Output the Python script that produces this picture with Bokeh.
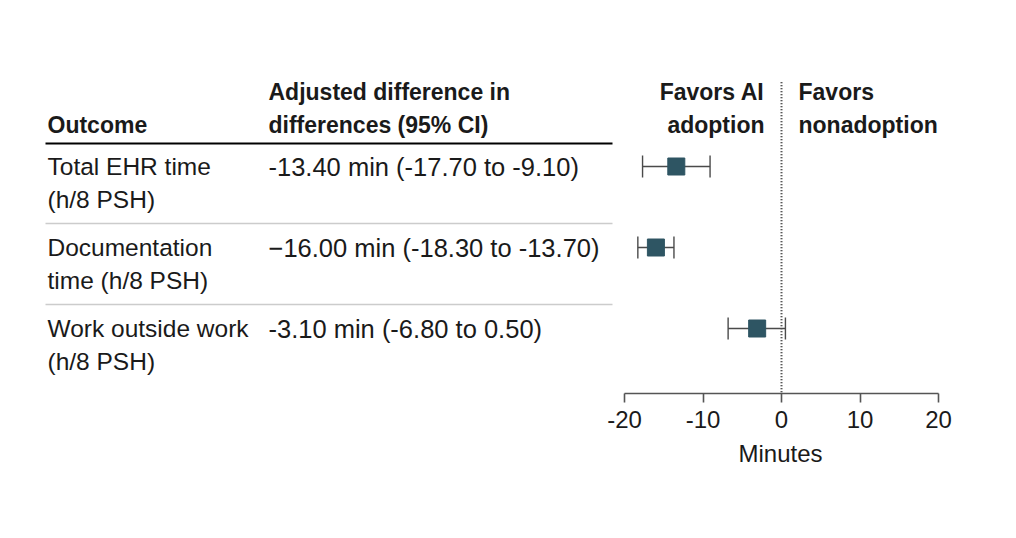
from bokeh.plotting import figure
from bokeh.models import Range1d, LinearAxis, FixedTicker, Title
from bokeh.core.properties import value
from bokeh.embed import file_html
from bokeh.resources import INLINE

# ---- data ----
outcome_line1 = ["Total EHR time", "Documentation", "Work outside work"]
outcome_line2 = ["(h/8 PSH)", "time (h/8 PSH)", "(h/8 PSH)"]
ci_text = ["-13.40 min (-17.70 to -9.10)",
           "\u221216.00 min (-18.30 to -13.70)",
           "-3.10 min (-6.80 to 0.50)"]
estimate = [-13.4, -16.0, -3.1]
lower = [-17.7, -18.3, -6.8]
upper = [-9.1, -13.7, 0.5]
rows = [1, 2, 3]
tick_values = [-20, -10, 0, 10, 20]
tick_labels = ["-20", "-10", "0", "10", "20"]
x_label = "Minutes"
header_outcome = "Outcome"
header_ci = ["Adjusted difference in", "differences (95% CI)"]
favors_left = ["Favors AI", "adoption"]
favors_right = ["Favors", "nonadoption"]

# ---- layout (page pixel coordinates) ----
OFF = 8                      # page offset of the frame
W, H = 1008, 523
FRAME_W = 1000
FRAME_H = 385
PX_PER_MIN = 314 / 40.0
X_NEG20 = 616                # frame px of -20
x_start = -20 - X_NEG20 / PX_PER_MIN
x_end = 20 + (FRAME_W - (X_NEG20 + 314)) / PX_PER_MIN
ROW_PX = 81.0
ROW1_PX = 158.0              # frame px of row 1 centre
y_top = 1 - ROW1_PX / ROW_PX
y_bot = 1 + (FRAME_H - ROW1_PX) / ROW_PX

FONT = value("Liberation Sans")
TXT = "#1a1a1a"

p = figure(width=W, height=H, x_range=Range1d(x_start, x_end),
           y_range=Range1d(y_bot, y_top), output_backend="svg",
           toolbar_location=None, x_axis_location=None, y_axis_location=None,
           min_border_left=OFF, min_border_right=0, min_border_top=OFF,
           min_border_bottom=H - FRAME_H - OFF)
p.extra_x_ranges = {"tbl": Range1d(0, FRAME_W)}
p.outline_line_color = None
p.xgrid.visible = False
p.ygrid.visible = False
p.background_fill_color = "white"
p.border_fill_color = "white"

xaxis = LinearAxis(ticker=FixedTicker(ticks=tick_values), bounds=(-20, 20),
                   major_label_overrides={v: l for v, l in zip(tick_values, tick_labels)})
xaxis.axis_line_color = "#555555"
xaxis.axis_line_width = 1.6
xaxis.major_tick_line_color = "#555555"
xaxis.major_tick_line_width = 1.6
xaxis.major_tick_in = 0
xaxis.major_tick_out = 9
xaxis.minor_tick_line_color = None
xaxis.major_label_text_font = "Liberation Sans"
xaxis.major_label_text_font_size = "24px"
xaxis.major_label_text_color = TXT
xaxis.major_label_standoff = 8
p.add_layout(xaxis, "below")

xt = Title(text=x_label, align="left", offset=730, standoff=14,
           text_font="Liberation Sans", text_font_size="24px",
           text_font_style="normal", text_color=TXT)
p.add_layout(xt, "below")

# zero reference line
p.segment(x0=[0], x1=[0], y0=[-0.04], y1=[y_bot], line_color="#222222",
          line_width=2, line_dash="1 2")

# error bars
cap = 0.135
EB = "#4a4a4a"
p.segment(x0=lower, x1=upper, y0=rows, y1=rows, line_color=EB, line_width=1.4)
p.segment(x0=lower, x1=lower, y0=[r - cap for r in rows], y1=[r + cap for r in rows],
          line_color=EB, line_width=1.4)
p.segment(x0=upper, x1=upper, y0=[r - cap for r in rows], y1=[r + cap for r in rows],
          line_color=EB, line_width=1.4)
p.scatter(x=estimate, y=rows, marker="square", size=17,
          fill_color="#2e5563", line_color="#2e5563")

# table rules
TBL_X0, TBL_X1 = 37, 604
p.segment(x0=[TBL_X0], x1=[TBL_X1], y0=[1 - 23 / ROW_PX], y1=[1 - 23 / ROW_PX],
          line_color="black", line_width=2.2, x_range_name="tbl")
sep_y = [r + 57 / ROW_PX for r in rows[:-1]]
p.segment(x0=[TBL_X0] * len(sep_y), x1=[TBL_X1] * len(sep_y), y0=sep_y, y1=sep_y,
          line_color="#cccccc", line_width=1.5, x_range_name="tbl")

# header text
hy1 = 1 - 75 / ROW_PX
hy2 = 1 - 42 / ROW_PX
COL1, COL2 = 39, 260
p.text(x=[COL1], y=[hy2], text=[header_outcome], x_range_name="tbl",
       text_font=FONT, text_font_size="23px", text_font_style="bold",
       text_baseline="middle", text_color=TXT)
p.text(x=[COL2, COL2], y=[hy1, hy2], text=header_ci, x_range_name="tbl",
       text_font=FONT, text_font_size="23px", text_font_style="bold",
       text_baseline="middle", text_color=TXT)
p.text(x=[756, 756], y=[hy1, hy2], text=favors_left, x_range_name="tbl",
       text_font=FONT, text_font_size="23px", text_font_style="bold",
       text_align="right", text_baseline="middle", text_color=TXT)
p.text(x=[790, 790], y=[hy1, hy2], text=favors_right, x_range_name="tbl",
       text_font=FONT, text_font_size="23px", text_font_style="bold",
       text_align="left", text_baseline="middle", text_color=TXT)

# row text
line2 = 32.5 / ROW_PX
p.text(x=[COL1] * 3, y=rows, text=outcome_line1, x_range_name="tbl",
       text_font=FONT, text_font_size="24.5px", text_baseline="middle", text_color=TXT)
p.text(x=[COL1] * 3, y=[r + line2 for r in rows], text=outcome_line2, x_range_name="tbl",
       text_font=FONT, text_font_size="24.5px", text_baseline="middle", text_color=TXT)
p.text(x=[COL2] * 3, y=rows, text=ci_text, x_range_name="tbl",
       text_font=FONT, text_font_size="25.5px", text_baseline="middle", text_color=TXT)

open("out.html", "w").write(file_html(p, INLINE))
